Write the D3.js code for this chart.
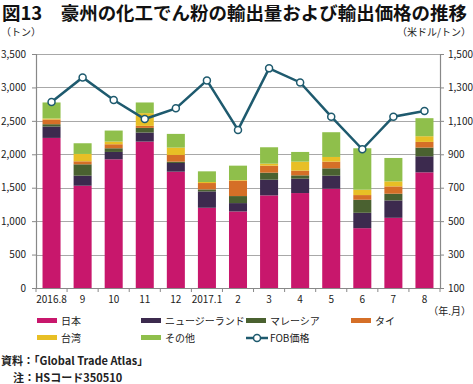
<!DOCTYPE html>
<html>
<head>
<meta charset="utf-8">
<script src="https://cdn.jsdelivr.net/npm/d3@7"></script>
<style>
  body { margin: 0; background: #fff; }
  text { font-family: "Noto Sans CJK JP", "Noto Sans", sans-serif; fill: #222; }
</style>
</head>
<body>
<script>
// 月
const months = ["2016.8", "9", "10", "11", "12", "2017.1", "2", "3", "4", "5", "6", "7", "8"];

// 輸出量（トン）
const japan    = [2245, 1530, 1925, 2190, 1740, 1200, 1145, 1385, 1420, 1485, 895, 1050, 1730];
const nz       = [170, 150, 110, 135, 130, 245, 125, 235, 215, 195, 230, 260, 240];
const malaysia = [35, 170, 55, 70, 20, 30, 105, 105, 50, 110, 195, 100, 130];
const thai     = [70, 45, 60, 30, 100, 95, 230, 105, 70, 100, 70, 110, 85];
const taiwan   = [15, 110, 40, 190, 110, 15, 10, 30, 135, 70, 80, 75, 85];
const others   = [240, 160, 165, 160, 205, 160, 215, 245, 145, 370, 620, 350, 270];

// FOB価格（米ドル/トン）
const fob = [1213, 1360, 1225, 1111, 1175, 1342, 1046, 1414, 1330, 1125, 930, 1125, 1159];

const seriesNames = ["日本", "ニュージーランド", "マレーシア", "タイ", "台湾", "その他"];
const seriesColors = ["#c8176c", "#3c2a4e", "#4a6130", "#d56f27", "#e8bf25", "#8fbf4b"];
const lineColor = "#1e5a6e";

const leftTicks = [0, 500, 1000, 1500, 2000, 2500, 3000, 3500];
const rightTicks = [100, 300, 500, 700, 900, 1100, 1300, 1500];

const W = 473, H = 384;
const margin = { left: 36, right: 33, top: 54, bottom: 96 };

const svg = d3.select("body").append("svg")
    .attr("width", W)
    .attr("height", H);

const datos = months.map((m, i) => ({
    mes: m,
    s0: japan[i], s1: nz[i], s2: malaysia[i], s3: thai[i], s4: taiwan[i], s5: others[i],
    fob: fob[i]
}));
const keys = ["s0", "s1", "s2", "s3", "s4", "s5"];
const stacked = d3.stack().keys(keys)(datos);

// escalas
const x = d3.scaleBand()
    .domain(months)
    .range([margin.left, W - margin.right])
    .paddingInner(0.42)
    .paddingOuter(0.21);

const y = d3.scaleLinear()
    .domain([0, 3500])
    .range([H - margin.bottom, margin.top]);

const y2 = d3.scaleLinear()
    .domain([100, 1500])
    .range([H - margin.bottom, margin.top]);

// titulo
svg.append("text")
    .attr("x", 2).attr("y", 20)
    .attr("font-size", 18).attr("font-weight", "bold")
    .attr("textLength", 465)
    .attr("lengthAdjust", "spacingAndGlyphs")
    .style("fill", "#111")
    .text("図13　豪州の化工でん粉の輸出量および輸出価格の推移");

svg.append("text")
    .attr("x", 1).attr("y", 36)
    .attr("font-size", 10)
    .text("（トン）");
svg.append("text")
    .attr("x", 471).attr("y", 36)
    .attr("font-size", 10)
    .attr("text-anchor", "end")
    .text("（米ドル/トン）");

// rejilla
svg.append("g")
    .selectAll("line")
    .data(leftTicks.slice(1))
    .join("line")
        .attr("x1", margin.left).attr("x2", W - margin.right)
        .attr("y1", d => Math.round(y(d)) + 0.5).attr("y2", d => Math.round(y(d)) + 0.5)
        .attr("stroke", "#a8a8a8")
        .attr("stroke-width", 1);

// barras
svg.append("g")
    .selectAll("g")
    .data(stacked)
    .join("g")
        .attr("fill", (d, i) => seriesColors[i])
    .selectAll("rect")
    .data(d => d)
    .join("rect")
        .attr("x", d => x(d.data.mes))
        .attr("y", d => y(d[1]))
        .attr("width", x.bandwidth())
        .attr("height", d => y(d[0]) - y(d[1]));

// ejes
const ejeY = svg.append("g")
    .attr("transform", "translate(" + margin.left + ",0)")
    .call(d3.axisLeft(y).tickValues(leftTicks).tickSize(4).tickPadding(6).tickFormat(d3.format(",")));

const ejeY2 = svg.append("g")
    .attr("transform", "translate(" + (W - margin.right) + ",0)")
    .call(d3.axisRight(y2).tickValues(rightTicks).tickSize(4).tickPadding(4).tickFormat(d3.format(",")));

const ejeX = svg.append("g")
    .attr("transform", "translate(0," + (H - margin.bottom) + ")")
    .call(d3.axisBottom(x).tickSize(0).tickPadding(8));

// marcas entre categorias
ejeX.selectAll(".sep")
    .data(d3.range(months.length + 1))
    .join("line")
        .attr("class", "sep")
        .attr("x1", i => x(months[0]) - x.step() * x.paddingOuter() + i * x.step())
        .attr("x2", i => x(months[0]) - x.step() * x.paddingOuter() + i * x.step())
        .attr("y1", 0).attr("y2", 4)
        .attr("stroke", "#888");

[ejeY, ejeY2, ejeX].forEach(g => {
    g.selectAll("path.domain").attr("stroke", "#888").attr("stroke-width", 1.2);
    g.selectAll(".tick line").attr("stroke", "#888");
    g.selectAll("text").attr("font-size", 10).style("fill", "#222")
        .attr("font-family", "\"Noto Sans CJK JP\", sans-serif");
});

svg.append("text")
    .attr("x", 471).attr("y", 315)
    .attr("font-size", 10)
    .attr("text-anchor", "end")
    .text("（年.月）");

// linea FOB
const linea = d3.line()
    .x(d => x(d.mes) + x.bandwidth() / 2)
    .y(d => y2(d.fob));

svg.append("path")
    .datum(datos)
    .attr("fill", "none")
    .attr("stroke", lineColor)
    .attr("stroke-width", 2.5)
    .attr("d", linea);

svg.append("g")
    .selectAll("circle")
    .data(datos)
    .join("circle")
        .attr("cx", d => x(d.mes) + x.bandwidth() / 2)
        .attr("cy", d => y2(d.fob))
        .attr("r", 3.5)
        .attr("fill", "#fff")
        .attr("stroke", lineColor)
        .attr("stroke-width", 1.5);

// leyenda
const legCols = [37, 141, 246, 351];
const legRows = [321, 338];
const leyenda = svg.append("g");
seriesNames.forEach((n, i) => {
    const cx = legCols[i % 4], cy = legRows[Math.floor(i / 4)];
    leyenda.append("rect")
        .attr("x", cx).attr("y", cy - 3)
        .attr("width", 20).attr("height", 5)
        .attr("fill", seriesColors[i]);
    leyenda.append("text")
        .attr("x", cx + 24).attr("y", cy + 4)
        .attr("font-size", 10)
        .text(n);
});
leyenda.append("line")
    .attr("x1", 246).attr("x2", 268)
    .attr("y1", 338).attr("y2", 338)
    .attr("stroke", lineColor).attr("stroke-width", 2.5);
leyenda.append("circle")
    .attr("cx", 257).attr("cy", 338).attr("r", 3.5)
    .attr("fill", "#fff").attr("stroke", lineColor).attr("stroke-width", 1.5);
leyenda.append("text")
    .attr("x", 270).attr("y", 342)
    .attr("font-size", 10)
    .text("FOB価格");

// fuente
svg.append("text")
    .attr("x", 1).attr("y", 365)
    .attr("font-size", 11).attr("font-weight", "bold")
    .text("資料：「Global Trade Atlas」");
svg.append("text")
    .attr("x", 13).attr("y", 382)
    .attr("font-size", 11).attr("font-weight", "bold")
    .text("注：HSコード350510");
</script>
</body>
</html>
